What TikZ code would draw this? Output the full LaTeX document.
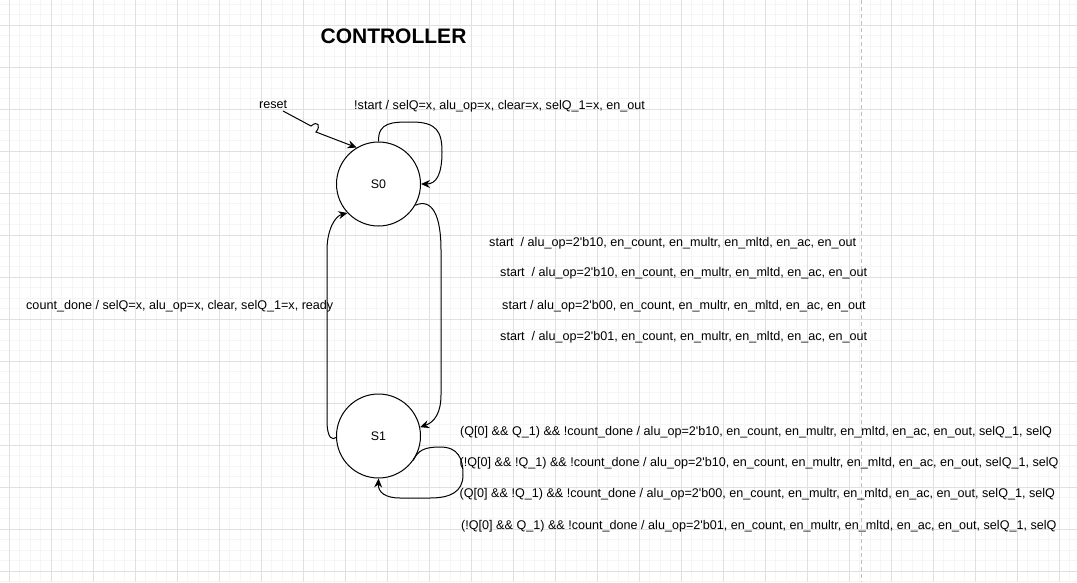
\documentclass[tikz,border=0pt]{standalone}
\usepackage{fontspec}
\setmainfont{Liberation Sans}
\usetikzlibrary{arrows.meta}

\newcommand{\ap}{\textquotesingle}

\begin{document}
\begin{tikzpicture}[x=1pt,y=-1pt]
			\tikzstyle{state} = [
				circle, draw = black, fill = white, line width = 1pt,
				inner sep = 0pt, minimum size = 84pt,
				font = \fontsize{12.4}{14}\selectfont
			]
			\tikzstyle{line}=[->,draw=black,line width=1pt,>={Stealth[length=9pt,width=8pt,inset=3pt]}]
			\tikzstyle{lbl}=[anchor=base west,inner sep=0pt,font=\fontsize{12.6}{14}\selectfont]
			\tikzstyle{minor}=[draw=black!4,line width=0.8pt]
			\tikzstyle{major}=[draw=black!12,line width=0.8pt]
			% page and grid
			\fill[white] (0,0) rectangle (1077,582);
			\useasboundingbox (0,0) rectangle (1077,582);
			\foreach \i in {0,...,103} \draw[minor] (-1.5+10.5*\i,0) -- (-1.5+10.5*\i,582);
			\foreach \j in {0,...,55} \draw[minor] (0,4+10.5*\j) -- (1077,4+10.5*\j);
			\foreach \i in {0,...,25} \draw[major] (9+42*\i,0) -- (9+42*\i,582);
			\foreach \j in {0,...,13} \draw[major] (0,25+42*\j) -- (1077,25+42*\j);
			\draw[black!25,line width=1pt,dash pattern=on 4pt off 3pt] (861.7,0) -- (861.7,582);
			% states
			\node[state] (s0) at (378.5,184) {S0};
			\node[state] (s1) at (378.5,436) {S1};
			\node[anchor=base,inner sep=0pt,font=\fontsize{21}{24}\selectfont\bfseries] (title) at (393.5,43.5) {CONTROLLER};
			\node[lbl] (reset) at (259,108.5) {reset};
			\coordinate (rst) at (283,111);
			% transitions
			\draw[line] (rst) -- (311,126) .. controls (318,120) and (321,126) .. (316,132) -- (s0.121);
			\draw[line] (s0.90) .. controls (378,122) and (392,122) .. (412,122) .. controls (437,122) and (442,132) .. (442,152) .. controls (442,175) and (436,184) .. (s0.0);
			\draw[line] (s0.-30) .. controls (432,198) and (441,215) .. (441,250) -- (441,395) .. controls (441,412) and (435,422) .. (s1.12);
			\draw[line] (s1.182) .. controls (333,440) and (327,440) .. (327,420) -- (327,250) .. controls (327,230) and (335,216) .. (s0.223);
			\draw[line] (s1.-35) .. controls (418,450) and (425,447) .. (440,447) .. controls (458,447) and (463,458) .. (463,475) .. controls (463,492) and (450,498) .. (430,498) -- (400,498) .. controls (385,498) and (378,492) .. (s1.-90);
			% labels
			\node[lbl] (selfs0) at (354,109) {!start / selQ=x, alu\_op=x, clear=x, selQ\_1=x, en\_out};
			\node[lbl] (go1) at (489,246) {start\ \ / alu\_op=2\ap b10, en\_count, en\_multr, en\_mltd, en\_ac, en\_out};
			\node[lbl] (go2) at (500,276.5) {start\ \ / alu\_op=2\ap b10, en\_count, en\_multr, en\_mltd, en\_ac, en\_out};
			\node[lbl] (go3) at (502,309) {start / alu\_op=2\ap b00, en\_count, en\_multr, en\_mltd, en\_ac, en\_out};
			\node[lbl] (go4) at (500,340) {start\ \ / alu\_op=2\ap b01, en\_count, en\_multr, en\_mltd, en\_ac, en\_out};
			\node[lbl] (done) at (26,309.3) {count\_done / selQ=x, alu\_op=x, clear, selQ\_1=x, ready};
			\node[lbl] (run1) at (460,435) {(Q[0] \&\& Q\_1) \&\& !count\_done / alu\_op=2\ap b10, en\_count, en\_multr, en\_mltd, en\_ac, en\_out, selQ\_1, selQ};
			\node[lbl] (run2) at (459.5,466.5) {(!Q[0] \&\& !Q\_1) \&\& !count\_done / alu\_op=2\ap b10, en\_count, en\_multr, en\_mltd, en\_ac, en\_out, selQ\_1, selQ};
			\node[lbl] (run3) at (459.5,497.3) {(Q[0] \&\& !Q\_1) \&\& !count\_done / alu\_op=2\ap b00, en\_count, en\_multr, en\_mltd, en\_ac, en\_out, selQ\_1, selQ};
			\node[lbl] (run4) at (461,529) {(!Q[0] \&\& Q\_1) \&\& !count\_done / alu\_op=2\ap b01, en\_count, en\_multr, en\_mltd, en\_ac, en\_out, selQ\_1, selQ};
		\end{tikzpicture}
\end{document}
